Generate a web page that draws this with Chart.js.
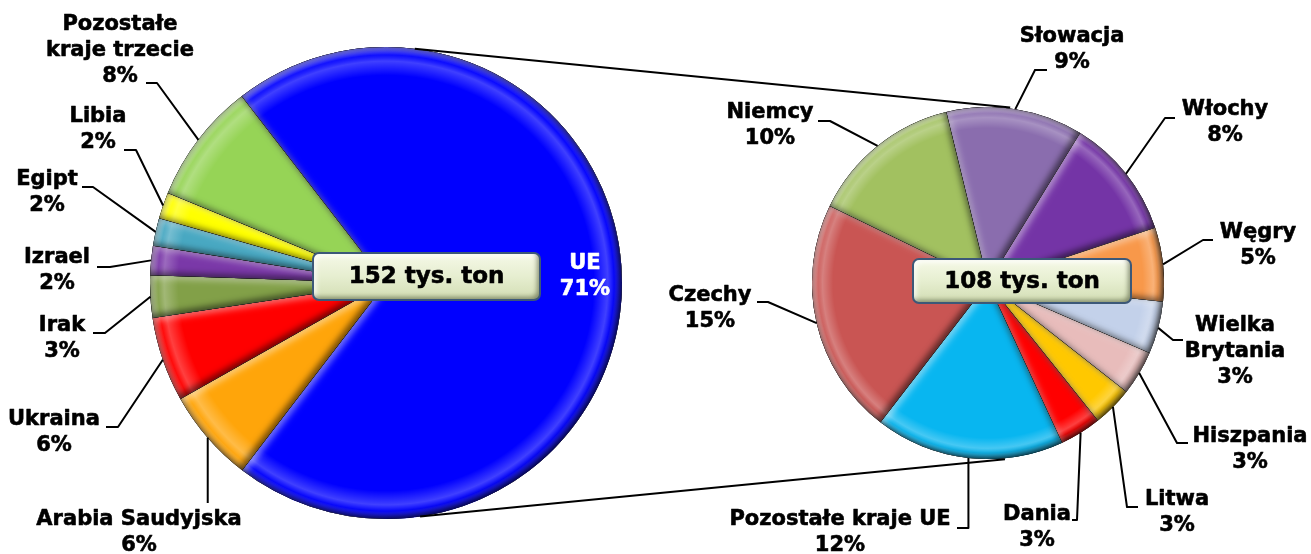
<!DOCTYPE html>
<html lang="pl">
<head>
<meta charset="utf-8">
<title>Import - struktura</title>
<script src="https://cdn.jsdelivr.net/npm/chart.js@4.4.1/dist/chart.umd.min.js"></script>
<style>
  html, body { margin: 0; padding: 0; background: #fff; }
  #wrap { position: relative; width: 1311px; height: 554px; }
  #wrap canvas { position: absolute; left: 0; top: 0; }
</style>
</head>
<body>
<div id="wrap">
  <canvas id="pieSwiat" width="1311" height="554"></canvas>
  <canvas id="pieUE" width="1311" height="554"></canvas>
</div>
<script>
// Dane - lewy wykres (udział w imporcie ogółem, %)
const kategorieSwiat = ['UE', 'Arabia Saudyjska', 'Ukraina', 'Irak', 'Izrael', 'Egipt', 'Libia', 'Pozostałe\nkraje trzecie'];
const udzialySwiat = [70.9, 6.4, 5.8, 2.9, 2.0, 1.9, 1.8, 8.3];
const kolorySwiat = ['#0000FF', '#FFA50A', '#FF0000', '#82A048', '#7A38A8', '#48A8C2', '#FFFF00', '#96D456'];

// Dane - prawy wykres (rozbicie UE, % importu ogółem)
const kategorieUE = ['Słowacja', 'Włochy', 'Węgry', 'Wielka\nBrytania', 'Hiszpania', 'Litwa', 'Dania', 'Pozostałe kraje UE', 'Czechy', 'Niemcy'];
const udzialyUE = [8.9, 7.9, 4.8, 3.4, 2.9, 2.6, 2.7, 12.3, 15.4, 9.9];
const koloryUE = ['#8A6DAE', '#7434A6', '#F8984A', '#C3D1EA', '#E8BCBB', '#FFC800', '#FF0000', '#08B6F0', '#C95553', '#A2C160'];

const sumyTon = ['152 tys. ton', '108 tys. ton'];

// Rozmieszczenie etykiet (pozycje tekstu i załamania linii odniesienia)
const etykietySwiat = [
  { x: 585, y: 264, kolor: '#fff' },
  { x: 139, y: 520, linia: [[null, 503]] },
  { x: 54, y: 420, linia: [[118, 427], [106, 427]] },
  { x: 62, y: 326, linia: [[105, 333], [93, 333]] },
  { x: 57, y: 258, linia: [[110, 267], [97, 267]] },
  { x: 47, y: 180, linia: [[93, 187], [82, 187]] },
  { x: 98, y: 117, linia: [[136, 150], [124, 150]] },
  { x: 120, y: 25, linia: [[157, 83], [146, 83]] }
];
const etykietyUE = [
  { x: 1072, y: 37, linia: [[1035, 70], [1047, 70]] },
  { x: 1225, y: 110, linia: [[1165, 118], [1175, 118]] },
  { x: 1258, y: 233, linia: [[1203, 240], [1213, 240]] },
  { x: 1235, y: 326, linia: [[1173, 340], [1183, 340]] },
  { x: 1250, y: 437, linia: [[1177, 443], [1188, 443]] },
  { x: 1177, y: 500, linia: [[1127, 507], [1138, 507]] },
  { x: 1037, y: 515, linia: [[1077, 520], [1072, 520]] },
  { x: 840, y: 520, linia: [[null, 528], [957, 528]] },
  { x: 710, y: 296, linia: [[768, 302], [757, 302]] },
  { x: 770, y: 113, linia: [[830, 121], [818, 121]] }
];
const ramki = [
  { x: 313, y: 253, w: 227, h: 47 },
  { x: 913, y: 259, w: 218, h: 44 }
];

const FONT = '"DejaVu Sans", Verdana, sans-serif';

// efekt "wypukłego" wycinka
const bevelPlugin = {
  id: 'bevel',
  afterDatasetsDraw(chart) {
    const ctx = chart.ctx;
    chart.getDatasetMeta(0).data.forEach(arc => {
      const { x, y, startAngle, endAngle, outerRadius: r } =
        arc.getProps(['x', 'y', 'startAngle', 'endAngle', 'outerRadius'], true);
      ctx.save();
      ctx.beginPath();
      ctx.moveTo(x, y);
      ctx.arc(x, y, r, startAngle, endAngle);
      ctx.closePath();
      ctx.clip();

      const g = ctx.createRadialGradient(x, y, r * 0.88, x, y, r);
      g.addColorStop(0, 'rgba(255,255,255,0)');
      g.addColorStop(0.5, 'rgba(255,255,255,0.25)');
      g.addColorStop(0.72, 'rgba(255,255,255,0.03)');
      g.addColorStop(1, 'rgba(0,0,0,0.35)');
      ctx.fillStyle = g;
      ctx.fillRect(x - r, y - r, 2 * r, 2 * r);

      [['rgba(255,255,255,0.45)', 3, 3], ['rgba(0,0,0,0.55)', -3, -3]].forEach(([c, dx, dy]) => {
        ctx.beginPath();
        ctx.rect(x - r - 60, y - r - 60, 2 * r + 120, 2 * r + 120);
        ctx.moveTo(x, y);
        ctx.arc(x, y, r, startAngle, endAngle);
        ctx.closePath();
        ctx.shadowColor = c;
        ctx.shadowBlur = 6;
        ctx.shadowOffsetX = dx;
        ctx.shadowOffsetY = dy;
        ctx.fillStyle = '#000';
        ctx.fill('evenodd');
      });
      ctx.restore();
    });
  }
};

function pogrubionyTekst(ctx, t, x, y, kolor) {
  ctx.fillStyle = kolor;
  ctx.strokeStyle = kolor;
  ctx.lineWidth = 0.6;
  ctx.lineJoin = 'round';
  ctx.fillText(t, x, y);
  ctx.strokeText(t, x, y);
}

function rysujRamke(ctx, r, tekst) {
  const rad = 6;
  const sciezka = () => {
    ctx.beginPath();
    ctx.roundRect(r.x, r.y, r.w, r.h, rad);
  };
  ctx.save();
  sciezka();
  const g = ctx.createLinearGradient(0, r.y, 0, r.y + r.h);
  g.addColorStop(0, '#F6F9E8');
  g.addColorStop(0.5, '#E6EED0');
  g.addColorStop(1, '#D2DDB3');
  ctx.fillStyle = g;
  ctx.fill();
  ctx.save();
  sciezka();
  ctx.clip();
  [['rgba(255,255,255,0.9)', 3, 3], ['rgba(60,70,40,0.55)', -3, -3]].forEach(([c, dx, dy]) => {
    ctx.beginPath();
    ctx.rect(r.x - 40, r.y - 40, r.w + 80, r.h + 80);
    ctx.roundRect(r.x, r.y, r.w, r.h, rad);
    ctx.shadowColor = c;
    ctx.shadowBlur = 5;
    ctx.shadowOffsetX = dx;
    ctx.shadowOffsetY = dy;
    ctx.fillStyle = '#000';
    ctx.fill('evenodd');
  });
  ctx.restore();
  sciezka();
  ctx.lineWidth = 2;
  ctx.strokeStyle = '#3C5878';
  ctx.stroke();
  ctx.font = 'bold 23px ' + FONT;
  ctx.textAlign = 'center';
  ctx.textBaseline = 'middle';
  pogrubionyTekst(ctx, tekst, r.x + r.w / 2, r.y + r.h / 2 + 1, '#000');
  ctx.restore();
}

const etykietyPlugin = {
  id: 'etykiety',
  afterDraw(chart, args, opts) {
    const ctx = chart.ctx;
    const meta = chart.getDatasetMeta(0);
    const dane = chart.data.datasets[0].data;
    ctx.save();
    meta.data.forEach((arc, i) => {
      const e = opts.uklad[i];
      const { x, y, startAngle, endAngle, outerRadius: r } =
        arc.getProps(['x', 'y', 'startAngle', 'endAngle', 'outerRadius'], true);
      const mid = (startAngle + endAngle) / 2;
      const ax = x + r * Math.cos(mid);
      const ay = y + r * Math.sin(mid);
      if (e.linia) {
        ctx.beginPath();
        ctx.moveTo(ax, ay);
        e.linia.forEach(([px, py]) => ctx.lineTo(px === null ? ax : px, py));
        ctx.lineWidth = 2;
        ctx.strokeStyle = '#000';
        ctx.stroke();
      }
      const linie = chart.data.labels[i].split('\n').concat(Math.round(dane[i]) + '%');
      ctx.font = 'bold 21px ' + FONT;
      ctx.textAlign = 'center';
      ctx.textBaseline = 'middle';
      linie.forEach((t, k) => pogrubionyTekst(ctx, t, e.x, e.y + k * 26, e.kolor || '#000'));
    });
    rysujRamke(ctx, opts.ramka, opts.tekst);
    ctx.restore();
  }
};

// linie łączące oba wykresy
const polaczeniaPlugin = {
  id: 'polaczenia',
  afterDraw(chart) {
    if (!wykresSwiat) return;
    const a = wykresSwiat.getDatasetMeta(0).data[0];
    const b = chart.getDatasetMeta(0).data[0];
    const pkt = (el, deg, dr) => {
      const t = (deg - 90) * Math.PI / 180;
      return [el.x + (el.outerRadius + dr) * Math.cos(t), el.y + (el.outerRadius + dr) * Math.sin(t)];
    };
    const ctx = chart.ctx;
    ctx.save();
    ctx.lineWidth = 2;
    ctx.strokeStyle = '#000';
    [[7, 7.2], [171.7, 174.5]].forEach(([d1, d2]) => {
      const p1 = pkt(a, d1, 0);
      const p2 = pkt(b, d2, 1);
      ctx.beginPath();
      ctx.moveTo(p1[0], p1[1]);
      ctx.lineTo(p2[0], p2[1]);
      ctx.stroke();
    });
    ctx.restore();
  }
};

const wspolne = {
  responsive: false,
  maintainAspectRatio: false,
  devicePixelRatio: 1,
  animation: false,
  events: []
};

let wykresSwiat = null;

wykresSwiat = new Chart(document.getElementById('pieSwiat'), {
  type: 'pie',
  data: {
    labels: kategorieSwiat,
    datasets: [{ data: udzialySwiat, backgroundColor: kolorySwiat, borderWidth: 0 }]
  },
  options: {
    ...wspolne,
    rotation: -37.7,
    layout: { padding: { left: 150, right: 689, top: 47, bottom: 35 } },
    plugins: {
      legend: { display: false },
      tooltip: { enabled: false },
      etykiety: { uklad: etykietySwiat, ramka: ramki[0], tekst: sumyTon[0] }
    }
  },
  plugins: [bevelPlugin, etykietyPlugin]
});

new Chart(document.getElementById('pieUE'), {
  type: 'pie',
  data: {
    labels: kategorieUE,
    datasets: [{ data: udzialyUE, backgroundColor: koloryUE, borderWidth: 0 }]
  },
  options: {
    ...wspolne,
    rotation: -13.7,
    layout: { padding: { left: 812, right: 147, top: 107, bottom: 95 } },
    plugins: {
      legend: { display: false },
      tooltip: { enabled: false },
      etykiety: { uklad: etykietyUE, ramka: ramki[1], tekst: sumyTon[1] }
    }
  },
  plugins: [bevelPlugin, polaczeniaPlugin, etykietyPlugin]
});
</script>
</body>
</html>
